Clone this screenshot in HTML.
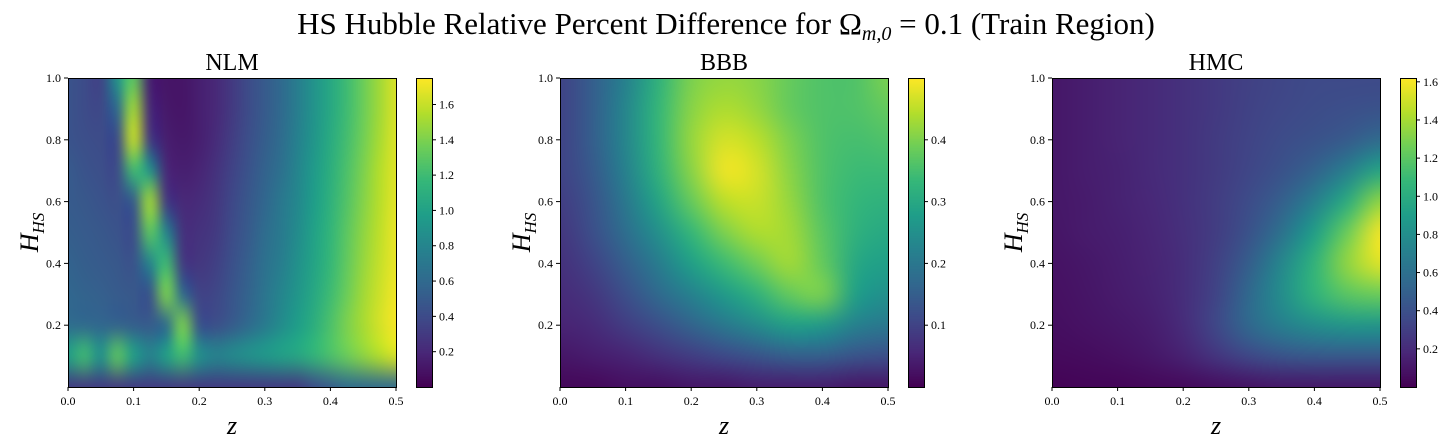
<!DOCTYPE html>
<html><head><meta charset="utf-8"><style>
body{margin:0;background:#fff;width:1453px;height:448px;overflow:hidden;font-family:"Liberation Serif",serif}
svg{position:absolute;left:0;top:0}
canvas{position:absolute}
</style></head><body>
<canvas id="c0"></canvas>
<canvas id="c1"></canvas>
<canvas id="c2"></canvas>
<canvas id="b0"></canvas>
<canvas id="b1"></canvas>
<canvas id="b2"></canvas>
<svg id="s" width="1453" height="448"></svg>
<script>
// rows: H from 1.0 down to 0.0
const nlmValues=[
[0.45,0.4,0.35,0.9,1.3,0.15,0.1,0.1,0.15,0.2,0.3,0.4,0.5,0.6,0.75,0.9,1.05,1.2,1.35,1.5,1.65],
[0.45,0.4,0.38,0.6,1.5,0.2,0.12,0.1,0.15,0.2,0.3,0.4,0.5,0.6,0.75,0.9,1.05,1.2,1.35,1.5,1.65],
[0.45,0.42,0.4,0.4,1.6,0.3,0.15,0.12,0.15,0.22,0.32,0.42,0.52,0.62,0.77,0.92,1.07,1.22,1.37,1.52,1.66],
[0.5,0.45,0.42,0.4,1.2,0.9,0.2,0.15,0.18,0.25,0.35,0.45,0.55,0.65,0.8,0.95,1.1,1.25,1.4,1.55,1.67],
[0.5,0.48,0.45,0.42,0.5,1.5,0.3,0.2,0.22,0.28,0.38,0.48,0.58,0.7,0.82,0.97,1.12,1.27,1.42,1.56,1.68],
[0.52,0.5,0.48,0.45,0.42,1.3,0.8,0.25,0.25,0.3,0.4,0.5,0.62,0.72,0.85,1.0,1.15,1.3,1.45,1.58,1.7],
[0.55,0.52,0.5,0.48,0.45,0.8,1.2,0.3,0.28,0.33,0.43,0.53,0.65,0.75,0.88,1.02,1.17,1.32,1.47,1.6,1.7],
[0.58,0.55,0.53,0.5,0.48,0.45,1.4,0.6,0.35,0.37,0.46,0.56,0.68,0.8,0.92,1.05,1.2,1.35,1.5,1.62,1.72],
[0.62,0.6,0.58,0.55,0.52,0.5,0.6,1.4,0.45,0.42,0.5,0.6,0.72,0.85,0.97,1.1,1.25,1.4,1.52,1.64,1.73],
[1.0,1.2,0.9,1.3,1.0,0.8,1.0,1.2,0.9,0.8,0.85,0.9,0.95,1.0,1.05,1.15,1.25,1.35,1.45,1.55,1.65],
[0.3,0.3,0.3,0.3,0.3,0.3,0.3,0.3,0.3,0.3,0.3,0.3,0.3,0.3,0.3,0.4,0.5,0.6,0.6,0.6,0.6]];
const bbbValues=[
[0.1,0.15,0.22,0.32,0.4,0.42,0.41,0.38,0.36,0.36,0.4],
[0.1,0.15,0.23,0.33,0.41,0.44,0.42,0.38,0.36,0.36,0.38],
[0.1,0.15,0.23,0.33,0.42,0.47,0.45,0.4,0.36,0.35,0.36],
[0.1,0.14,0.22,0.32,0.41,0.49,0.47,0.41,0.36,0.34,0.34],
[0.09,0.13,0.2,0.29,0.38,0.45,0.46,0.42,0.36,0.33,0.32],
[0.08,0.12,0.18,0.25,0.33,0.4,0.44,0.43,0.37,0.32,0.3],
[0.07,0.1,0.15,0.21,0.28,0.34,0.39,0.43,0.38,0.3,0.28],
[0.06,0.08,0.12,0.17,0.22,0.27,0.32,0.38,0.4,0.28,0.25],
[0.05,0.06,0.09,0.12,0.16,0.2,0.24,0.28,0.27,0.22,0.2],
[0.03,0.04,0.05,0.07,0.09,0.11,0.13,0.15,0.15,0.13,0.12],
[0.01,0.01,0.02,0.02,0.03,0.03,0.04,0.04,0.04,0.03,0.03]];
const hmcValues=[
[0.1,0.13,0.16,0.19,0.23,0.27,0.31,0.34,0.36,0.36,0.36],
[0.1,0.13,0.16,0.19,0.23,0.27,0.32,0.35,0.37,0.39,0.41],
[0.1,0.13,0.16,0.19,0.23,0.28,0.33,0.37,0.41,0.46,0.56],
[0.1,0.13,0.15,0.19,0.23,0.28,0.34,0.41,0.51,0.7,0.95],
[0.1,0.12,0.15,0.18,0.23,0.29,0.37,0.49,0.7,1.0,1.35],
[0.09,0.12,0.14,0.17,0.22,0.29,0.41,0.6,0.9,1.25,1.6],
[0.08,0.1,0.13,0.16,0.21,0.31,0.48,0.75,1.05,1.35,1.55],
[0.07,0.09,0.12,0.15,0.21,0.33,0.55,0.8,1.05,1.2,1.25],
[0.06,0.08,0.1,0.13,0.2,0.35,0.55,0.7,0.8,0.85,0.85],
[0.04,0.05,0.07,0.1,0.15,0.25,0.35,0.42,0.45,0.45,0.45],
[0.01,0.02,0.02,0.03,0.04,0.06,0.08,0.1,0.1,0.1,0.1]];
const panelTitles=["NLM","BBB","HMC"];
const vRanges=[[0,1.75],[0,0.5],[0,1.62]];
const cbTicks=[[0.2,0.4,0.6,0.8,1.0,1.2,1.4,1.6],[0.1,0.2,0.3,0.4],[0.2,0.4,0.6,0.8,1.0,1.2,1.4,1.6]];
const xTicks=[0.0,0.1,0.2,0.3,0.4,0.5];
const yTicks=[0.2,0.4,0.6,0.8,1.0];

const VIR=[[68,1,84],[72,40,120],[62,74,137],[49,104,142],[38,130,142],[31,158,137],[53,183,121],[110,206,88],[181,222,43],[253,231,37]];
function viridis(t){t=Math.max(0,Math.min(1,t))*9;const i=Math.min(8,Math.floor(t)),f=t-i;const a=VIR[i],b=VIR[i+1];return [0,1,2].map(k=>Math.round(a[k]+(b[k]-a[k])*f));}
const data=[nlmValues,bbbValues,hmcValues];
const PX=[68,560,1052],PW=328,PT=78,PH=309,CBX=[416,908,1400],CBW=16;
const xs=(p,z)=>PX[p]+z/0.5*PW, ys=h=>PT+PH-(h/1.0)*PH;
const S=document.getElementById('s');const NS='http://www.w3.org/2000/svg';
function el(tag,at,txt){const e=document.createElementNS(NS,tag);for(const k in at)e.setAttribute(k,at[k]);if(txt!=null)e.textContent=txt;S.appendChild(e);return e;}
for(let p=0;p<3;p++){
  const g=data[p],R=g.length,C=g[0].length,[lo,hi]=vRanges[p];
  const sm=document.createElement('canvas');sm.width=C;sm.height=R;const sx=sm.getContext('2d');const im=sx.createImageData(C,R);
  for(let r=0;r<R;r++)for(let c=0;c<C;c++){const col=viridis((g[r][c]-lo)/(hi-lo));const o=(r*C+c)*4;im.data[o]=col[0];im.data[o+1]=col[1];im.data[o+2]=col[2];im.data[o+3]=255;}
  sx.putImageData(im,0,0);
  const cv=document.getElementById('c'+p);cv.width=PW;cv.height=PH;cv.style.left=PX[p]+'px';cv.style.top=PT+'px';
  const cx=cv.getContext('2d');cx.imageSmoothingEnabled=true;cx.imageSmoothingQuality='high';
  cx.drawImage(sm,0.5,0.5,C-1,R-1,0,0,PW,PH);
  const cb=document.getElementById('b'+p);cb.width=CBW;cb.height=PH;cb.style.left=CBX[p]+'px';cb.style.top=PT+'px';
  const bx=cb.getContext('2d');
  for(let y=0;y<PH;y++){const col=viridis(1-y/(PH-1));bx.fillStyle=`rgb(${col})`;bx.fillRect(0,y,CBW,1);}
  let e=el('rect',{x:PX[p]+0.5,y:PT+0.5,width:PW,height:PH,fill:'none',stroke:'#000','stroke-width':1});
  
  e=el('rect',{x:CBX[p]+0.5,y:PT+0.5,width:CBW,height:PH,fill:'none',stroke:'#000','stroke-width':1});
  
  for(const t of xTicks){const x=xs(p,t);el('line',{x1:x,x2:x,y1:PT+PH,y2:PT+PH+4,stroke:'#000'});
    e=el('text',{x:x,y:PT+PH+18,'font-size':12,'text-anchor':'middle','font-family':'Liberation Serif,serif'},t.toFixed(1));
    }
  for(const t of yTicks){const y=ys(t);el('line',{x1:PX[p]-4,x2:PX[p],y1:y,y2:y,stroke:'#000'});
    e=el('text',{x:PX[p]-7,y:y+4,'font-size':12,'text-anchor':'end','font-family':'Liberation Serif,serif'},t.toFixed(1));
    }
  for(const t of cbTicks[p]){const y=PT+PH-(t-lo)/(hi-lo)*PH;el('line',{x1:CBX[p]+CBW,x2:CBX[p]+CBW+4,y1:y,y2:y,stroke:'#000'});
    e=el('text',{x:CBX[p]+CBW+7,y:y+4,'font-size':12,'font-family':'Liberation Serif,serif'},t.toFixed(1));
    }
  e=el('text',{x:PX[p]+PW/2,y:70,'font-size':24,'text-anchor':'middle','font-family':'Liberation Serif,serif'},panelTitles[p]);
  
  e=el('text',{x:PX[p]+PW/2,y:434,'font-size':26,'font-style':'italic','text-anchor':'middle','font-family':'Liberation Serif,serif'},'z');
  
  e=el('text',{transform:`translate(${PX[p]-30},${PT+PH/2}) rotate(-90)`,'font-size':26,'font-style':'italic','text-anchor':'middle','font-family':'Liberation Serif,serif'});
  
  e.innerHTML='H<tspan font-size="17" dy="6">HS</tspan>';
}
const t=el('text',{x:726,y:34,'font-size':31,'text-anchor':'middle','font-family':'Liberation Serif,serif'});

t.innerHTML='HS Hubble Relative Percent Difference for Ω<tspan font-size="20" dy="6" font-style="italic">m,0</tspan><tspan dy="-6"> = 0.1 (Train Region)</tspan>';
</script>
</body></html>
